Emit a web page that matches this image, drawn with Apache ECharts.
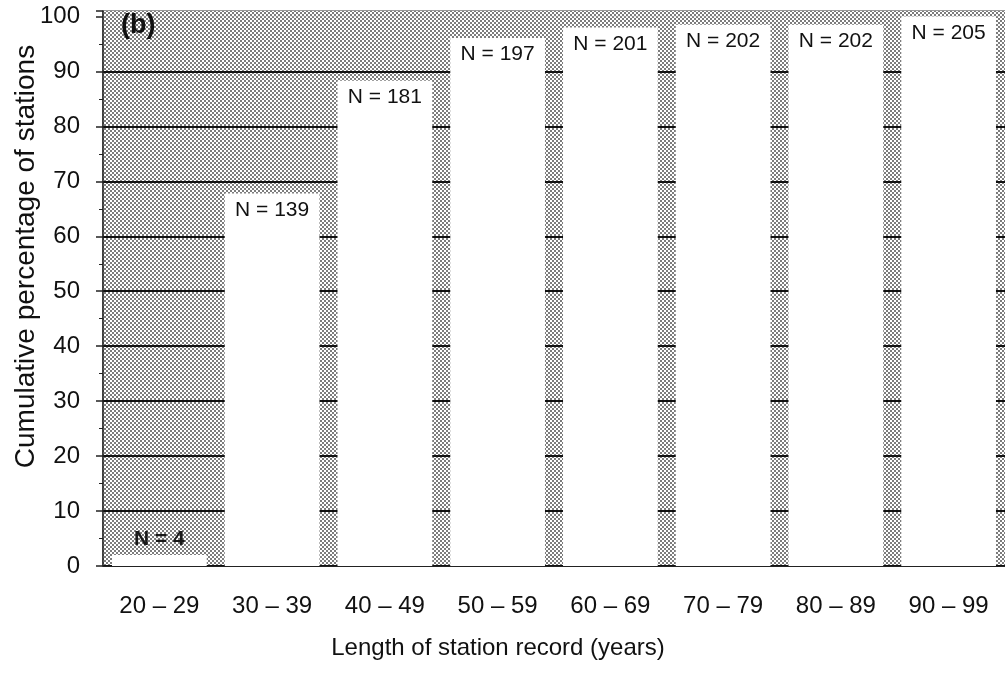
<!DOCTYPE html>
<html><head><meta charset="utf-8">
<script src="https://cdn.jsdelivr.net/npm/echarts@6/dist/echarts.min.js"></script>
<style>html,body{margin:0;padding:0;background:#fff}#c{width:1005px;height:675px}</style>
</head><body><div id="c"></div>
<script>
const categories = ['20 \u2013 29','30 \u2013 39','40 \u2013 49','50 \u2013 59','60 \u2013 69','70 \u2013 79','80 \u2013 89','90 \u2013 99'];
const cumulativePct = [2.0, 67.8, 88.3, 96.1, 98.0, 98.5, 98.5, 100];
const stationCounts = [4, 139, 181, 197, 201, 202, 202, 205];
const yTicks = [0,10,20,30,40,50,60,70,80,90,100];

const FONT = '"Liberation Sans", Arial, sans-serif';

// stipple pattern tile
const tile = document.createElement('canvas');
tile.width = 4; tile.height = 4;
const tc = tile.getContext('2d');
tc.fillStyle = '#ffffff'; tc.fillRect(0,0,4,4);
tc.fillStyle = '#7c7c7c';
tc.fillRect(0,0,2,2); tc.fillRect(2,2,2,2);
const stipple = {image: tile, repeat: 'repeat'};

// grid line colours per tick index (0..100 plus 101 top edge); hide at 100 and at top
const gridColors = yTicks.map(v => (v === 100 ? 'rgba(0,0,0,0)' : '#111'));
gridColors.push('rgba(0,0,0,0)');

const chart = echarts.init(document.getElementById('c'));
const data = cumulativePct.map((v,i)=>{
  const d = {value:v};
  if(i===0){
    d.label = {position:'top', distance:5, fontWeight:'bold', fontSize:21, color:'#1a1a1a',
      formatter:p=>'N = ' + stationCounts[p.dataIndex]};
  }
  return d;
});
chart.setOption({
  animation:false,
  backgroundColor:'#fff',
  title:{text:'(b)', left:116, top:7, textStyle:{fontFamily:FONT, fontSize:27, fontWeight:'bold', color:'#111'}},
  grid:{left:103, right:0, top:11, bottom:109, outerBoundsMode:'none', containLabel:false,
    show:true, backgroundColor:'#bebebe', borderColor:'#333', borderWidth:1},
  xAxis:{type:'category', data:categories,
    axisLine:{show:true, lineStyle:{color:'#222', width:1}},
    axisTick:{show:false},
    axisLabel:{fontFamily:FONT, fontSize:24, color:'#111', margin:28},
    name:'Length of station record (years)', nameLocation:'middle', nameGap:70, nameMoveOverlap:false,
    nameTextStyle:{fontFamily:FONT, fontSize:24, color:'#111', padding:[0,112,0,0]}
  },
  yAxis:{type:'value', min:0, max:101, interval:10,
    axisLine:{show:true, lineStyle:{color:'#222', width:1.5}},
    axisTick:{show:true, inside:false, length:7, lineStyle:{color:'#222', width:1.5}},
    minorTick:{show:true, splitNumber:2, length:4, lineStyle:{color:'#222', width:1}},
    axisLabel:{fontFamily:FONT, fontSize:24, color:'#111', margin:23, showMaxLabel:false,
      formatter:v=>yTicks.includes(v)?String(v):''},
    splitLine:{show:true, lineStyle:{color:gridColors, width:2}},
    splitArea:{show:true, areaStyle:{color:[stipple]}},
    name:'Cumulative percentage of stations', nameLocation:'middle', nameGap:63, nameRotate:90, nameMoveOverlap:false,
    nameTextStyle:{fontFamily:FONT, fontSize:28, color:'#111', padding:[0,0,0,64]}
  },
  series:[{type:'bar', data:data, barWidth:'84%',
    itemStyle:{color:'#ffffff'},
    label:{show:true, position:'insideTop', distance:6, fontFamily:FONT, fontSize:21, color:'#111',
      formatter:p=>'N = '+stationCounts[p.dataIndex]}
  }]
});
</script></body></html>
